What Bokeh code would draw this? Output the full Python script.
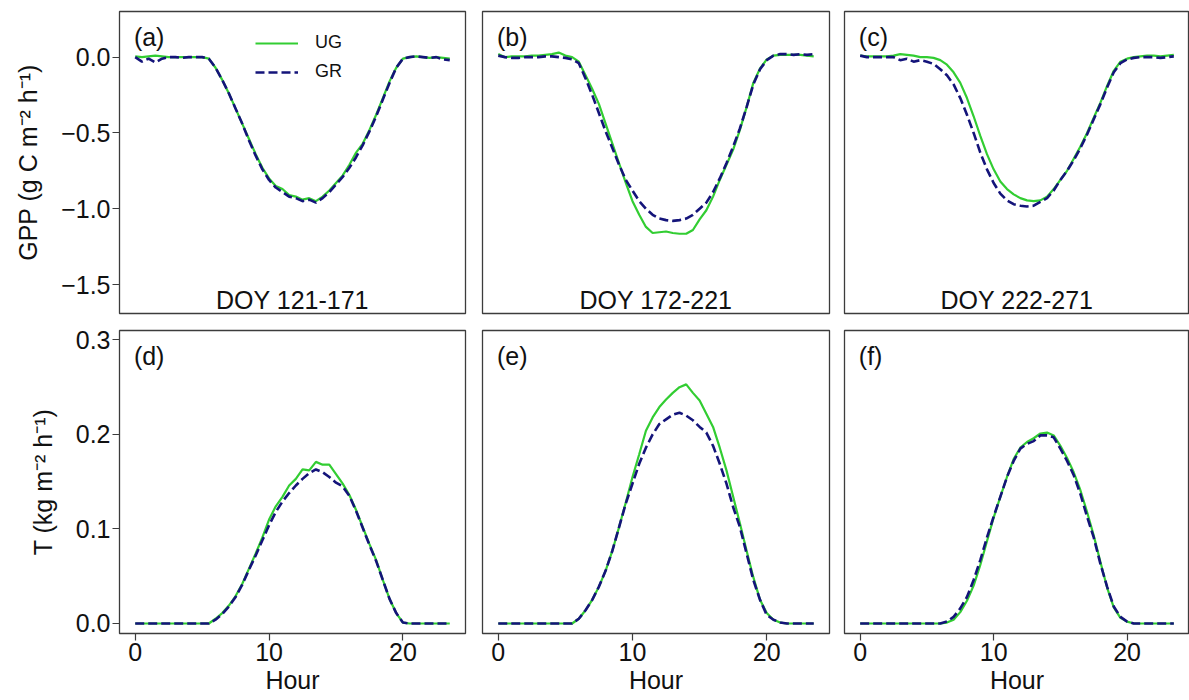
from bokeh.plotting import figure
from bokeh.layouts import column, row
from bokeh.models import (Range1d, FixedTicker, CustomJSTickFormatter, Label,
                          Legend, LegendItem)
from bokeh.embed import file_html
from bokeh.resources import INLINE

# ---------------- data ----------------
hours = [0.0, 0.5, 1.0, 1.5, 2.0, 2.5, 3.0, 3.5, 4.0, 4.5, 5.0, 5.5,
         6.0, 6.5, 7.0, 7.5, 8.0, 8.5, 9.0, 9.5, 10.0, 10.5, 11.0, 11.5,
         12.0, 12.5, 13.0, 13.5, 14.0, 14.5, 15.0, 15.5, 16.0, 16.5, 17.0, 17.5,
         18.0, 18.5, 19.0, 19.5, 20.0, 20.5, 21.0, 21.5, 22.0, 22.5, 23.0, 23.5]

panel_tags = ["(a)", "(b)", "(c)", "(d)", "(e)", "(f)"]
period_names = ["DOY 121-171", "DOY 172-221", "DOY 222-271"]
series_names = ["UG", "GR"]
x_ticks = [0, 10, 20]
gpp_ticks = [-1.5, -1.0, -0.5, 0.0]
t_ticks = [0.0, 0.1, 0.2, 0.3]

gpp_ug_a = [0.005, 0.0, 0.005, 0.01, 0.005, 0.0, 0.0, 0.0, 0.0, 0.0, 0.0, -0.01,
            -0.07, -0.15, -0.24, -0.34, -0.44, -0.54, -0.64, -0.73, -0.80, -0.85,
            -0.87, -0.91, -0.92, -0.94, -0.93, -0.95, -0.92, -0.88, -0.83, -0.78,
            -0.71, -0.63, -0.57, -0.48, -0.38, -0.27, -0.16, -0.07, -0.01, 0.0,
            0.005, 0.0, -0.005, 0.0, -0.005, -0.01]
gpp_gr_a = [0.0, -0.03, -0.01, -0.035, -0.01, 0.0, 0.0, -0.005, 0.0, 0.0, 0.0, -0.01,
            -0.07, -0.15, -0.24, -0.34, -0.44, -0.55, -0.65, -0.74, -0.81, -0.86,
            -0.89, -0.92, -0.93, -0.95, -0.94, -0.96, -0.93, -0.89, -0.84, -0.79,
            -0.73, -0.66, -0.58, -0.49, -0.39, -0.28, -0.17, -0.07, -0.01, 0.0,
            0.005, 0.0, -0.005, 0.0, -0.015, -0.02]

gpp_ug_b = [0.02, 0.0, 0.005, 0.005, 0.005, 0.01, 0.01, 0.015, 0.02, 0.03, 0.01, 0.0,
            -0.03, -0.12, -0.21, -0.31, -0.44, -0.57, -0.70, -0.83, -0.95, -1.04,
            -1.12, -1.16, -1.155, -1.15, -1.16, -1.165, -1.165, -1.14, -1.07, -1.01,
            -0.92, -0.81, -0.71, -0.61, -0.48, -0.33, -0.17, -0.075, -0.015, 0.01,
            0.015, 0.015, 0.015, 0.015, 0.01, 0.005]
gpp_gr_b = [0.01, 0.0, -0.005, -0.005, 0.0, 0.0, 0.0, 0.005, 0.005, 0.0, -0.005, -0.015,
            -0.04, -0.14, -0.25, -0.37, -0.49, -0.60, -0.71, -0.81, -0.88, -0.95,
            -1.0, -1.04, -1.065, -1.075, -1.08, -1.075, -1.065, -1.04, -1.0, -0.96,
            -0.89, -0.80, -0.70, -0.59, -0.47, -0.33, -0.18, -0.08, -0.02, 0.01,
            0.02, 0.02, 0.015, 0.02, 0.015, 0.02]

gpp_ug_c = [0.01, 0.005, 0.005, 0.005, 0.005, 0.01, 0.02, 0.015, 0.01, 0.0, 0.0, -0.005,
            -0.02, -0.05, -0.10, -0.17, -0.27, -0.39, -0.52, -0.64, -0.74, -0.82,
            -0.87, -0.905, -0.93, -0.945, -0.95, -0.945, -0.92, -0.87, -0.81, -0.75,
            -0.67, -0.59, -0.50, -0.40, -0.30, -0.19, -0.09, -0.03, -0.01, 0.0,
            0.005, 0.01, 0.01, 0.005, 0.01, 0.015]
gpp_gr_c = [0.01, 0.0, 0.0, 0.0, 0.0, 0.0, -0.02, -0.01, -0.03, -0.02, -0.03, -0.045,
            -0.08, -0.12, -0.18, -0.27, -0.38, -0.50, -0.63, -0.74, -0.83, -0.90,
            -0.945, -0.97, -0.98, -0.985, -0.98, -0.955, -0.93, -0.88, -0.81, -0.75,
            -0.68, -0.60, -0.51, -0.41, -0.31, -0.20, -0.10, -0.04, -0.015, -0.005,
            0.0, 0.0, 0.0, -0.005, 0.0, 0.005]

t_ug_d = [0.0, 0.0, 0.0, 0.0, 0.0, 0.0, 0.0, 0.0, 0.0, 0.0, 0.0, 0.0,
          0.005, 0.011, 0.019, 0.029, 0.042, 0.058, 0.074, 0.091, 0.110, 0.124,
          0.134, 0.146, 0.153, 0.163, 0.162, 0.171, 0.168, 0.168, 0.158, 0.148,
          0.136, 0.120, 0.102, 0.084, 0.067, 0.046, 0.026, 0.011, 0.001, 0.0,
          0.0, 0.0, 0.0, 0.0, 0.0, 0.0]
t_gr_d = [0.0, 0.0, 0.0, 0.0, 0.0, 0.0, 0.0, 0.0, 0.0, 0.0, 0.0, 0.0,
          0.004, 0.010, 0.018, 0.028, 0.041, 0.057, 0.072, 0.088, 0.104, 0.118,
          0.129, 0.138, 0.146, 0.153, 0.159, 0.163, 0.160, 0.155, 0.149, 0.145,
          0.135, 0.119, 0.101, 0.083, 0.066, 0.046, 0.026, 0.011, 0.001, 0.0,
          0.0, 0.0, 0.0, 0.0, 0.0, 0.0]

t_ug_e = [0.0, 0.0, 0.0, 0.0, 0.0, 0.0, 0.0, 0.0, 0.0, 0.0, 0.0, 0.0,
          0.005, 0.014, 0.025, 0.039, 0.056, 0.077, 0.102, 0.128, 0.155, 0.179,
          0.204, 0.218, 0.229, 0.237, 0.244, 0.250, 0.253, 0.244, 0.236, 0.222,
          0.208, 0.186, 0.162, 0.134, 0.106, 0.077, 0.049, 0.025, 0.011, 0.004,
          0.001, 0.0, 0.0, 0.0, 0.0, 0.0]
t_gr_e = [0.0, 0.0, 0.0, 0.0, 0.0, 0.0, 0.0, 0.0, 0.0, 0.0, 0.0, 0.0,
          0.005, 0.014, 0.025, 0.039, 0.056, 0.077, 0.102, 0.127, 0.148, 0.169,
          0.186, 0.200, 0.211, 0.216, 0.221, 0.223, 0.220, 0.215, 0.208, 0.202,
          0.188, 0.169, 0.148, 0.123, 0.102, 0.074, 0.046, 0.025, 0.009, 0.004,
          0.001, 0.0, 0.0, 0.0, 0.0, 0.0]

t_ug_f = [0.0, 0.0, 0.0, 0.0, 0.0, 0.0, 0.0, 0.0, 0.0, 0.0, 0.0, 0.0,
          0.0, 0.001, 0.004, 0.012, 0.024, 0.040, 0.062, 0.087, 0.112, 0.134,
          0.155, 0.174, 0.186, 0.192, 0.196, 0.201, 0.202, 0.199, 0.188, 0.175,
          0.160, 0.141, 0.118, 0.093, 0.065, 0.038, 0.017, 0.006, 0.002, 0.0,
          0.0, 0.0, 0.0, 0.0, 0.0, 0.0]
t_gr_f = [0.0, 0.0, 0.0, 0.0, 0.0, 0.0, 0.0, 0.0, 0.0, 0.0, 0.0, 0.0,
          0.0, 0.002, 0.007, 0.016, 0.028, 0.046, 0.067, 0.091, 0.113, 0.134,
          0.155, 0.172, 0.185, 0.190, 0.193, 0.199, 0.199, 0.197, 0.185, 0.172,
          0.157, 0.137, 0.113, 0.091, 0.063, 0.039, 0.018, 0.007, 0.002, 0.0,
          0.0, 0.0, 0.0, 0.0, 0.0, 0.0]

ug_series = [gpp_ug_a, gpp_ug_b, gpp_ug_c, t_ug_d, t_ug_e, t_ug_f]
gr_series = [gpp_gr_a, gpp_gr_b, gpp_gr_c, t_gr_d, t_gr_e, t_gr_f]

# ---------------- style ----------------
FONT = "Liberation Sans"
FS = "25px"
UG_COLOR = "limegreen"
GR_COLOR = "#14147a"
FRAME = "#3c3c3c"

X_RANGE = (-1.175, 24.675)
Y_RANGES = [(-1.691, 0.301), (-0.0106, 0.310)]
WIDTHS = [473, 364, 352]
HEIGHTS = [321, 379]
BORDER_L = [119, 9, 7]
BORDER_R = [8, 8, 0]
BORDER_T = [11, 9]
BORDER_B = [8, 67]

fmt = CustomJSTickFormatter(code="return tick.toFixed(1).replace('-', '\u2212');")


def style_axis(ax):
    ax.axis_line_color = None
    ax.major_tick_line_color = FRAME
    ax.major_tick_line_width = 1.2
    ax.major_tick_out = 7
    ax.major_tick_in = 0
    ax.minor_tick_out = 0
    ax.minor_tick_in = 0
    ax.major_label_text_font = FONT
    ax.major_label_text_font_size = FS
    ax.major_label_text_color = "#111111"
    ax.major_label_standoff = 2
    ax.axis_label_text_font = FONT
    ax.axis_label_text_font_size = FS
    ax.axis_label_text_font_style = "normal"
    ax.axis_label_text_color = "#111111"


figs = []
for i in range(6):
    r, c = divmod(i, 3)
    y0, y1 = Y_RANGES[r]
    p = figure(width=WIDTHS[c], height=HEIGHTS[r],
               x_range=Range1d(*X_RANGE), y_range=Range1d(y0, y1),
               output_backend="svg", toolbar_location=None, tools="",
               min_border_left=BORDER_L[c], min_border_right=BORDER_R[c],
               min_border_top=BORDER_T[r], min_border_bottom=BORDER_B[r])
    p.grid.visible = False
    p.outline_line_color = FRAME
    p.outline_line_width = 1.3
    p.background_fill_color = "white"
    p.border_fill_color = "white"

    p.xaxis.ticker = FixedTicker(ticks=x_ticks, minor_ticks=[])
    p.yaxis.ticker = FixedTicker(ticks=gpp_ticks if r == 0 else t_ticks, minor_ticks=[])
    p.yaxis.formatter = fmt
    style_axis(p.xaxis[0])
    style_axis(p.yaxis[0])
    p.xaxis.axis_label_standoff = 2

    if r == 0:
        p.xaxis.visible = False
    else:
        p.xaxis.axis_label = "Hour"
    if c != 0:
        p.yaxis.visible = False
    else:
        p.yaxis.axis_label_standoff = 16
        p.yaxis.axis_label = ("GPP (g C m\u207b\u00b2 h\u207b\u00b9)" if r == 0
                              else "T (kg m\u207b\u00b2 h\u207b\u00b9)")

    r_ug = p.line(hours, ug_series[i], line_color=UG_COLOR, line_width=2.2)
    r_gr = p.line(hours, gr_series[i], line_color=GR_COLOR, line_width=2.6,
                  line_dash="9 4")

    # panel tag
    px_per_unit = (HEIGHTS[r] - BORDER_T[r] - BORDER_B[r]) / (y1 - y0)
    p.add_layout(Label(x=-0.1, y=y1 - 11 / px_per_unit, text=panel_tags[i],
                       text_font=FONT, text_font_size=FS, text_color="#111111",
                       text_baseline="top", text_align="left"))
    if r == 0:
        p.add_layout(Label(x=(X_RANGE[0] + X_RANGE[1]) / 2,
                           y=y0 + 14 / px_per_unit, text=period_names[c],
                           text_font=FONT, text_font_size=FS, text_color="#111111",
                           text_baseline="alphabetic", text_align="center"))
    if i == 0:
        legend = Legend(items=[LegendItem(label=series_names[0], renderers=[r_ug]),
                               LegendItem(label=series_names[1], renderers=[r_gr])],
                        location=(136, 231), padding=0, margin=0, spacing=8,
                        glyph_width=43, glyph_height=20, label_height=20,
                        label_standoff=17, label_text_font=FONT,
                        label_text_font_size="18px", label_text_color="#111111",
                        border_line_color=None, background_fill_alpha=0)
        p.add_layout(legend)
    figs.append(p)

layout = column(row(figs[0], figs[1], figs[2]), row(figs[3], figs[4], figs[5]))

open("out.html", "w", encoding="utf-8").write(file_html(layout, INLINE))
